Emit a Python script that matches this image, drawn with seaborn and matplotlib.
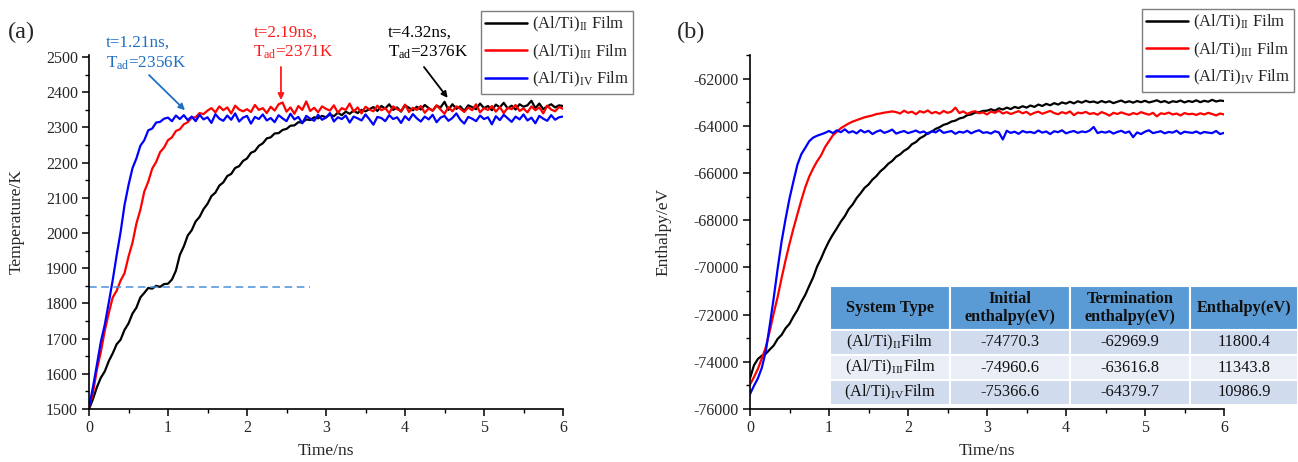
import numpy as np
import pandas as pd
import matplotlib
matplotlib.use("Agg")
import matplotlib.pyplot as plt
from matplotlib.ticker import MultipleLocator
import seaborn as sns

# ---------------------------------------------------------------- data
time_ns = np.round(np.linspace(0.0, 6.0, 121), 2)

films = [r"(Al/Ti)$_{\rm II}$ Film", r"(Al/Ti)$_{\rm III}$ Film", r"(Al/Ti)$_{\rm IV}$ Film"]
film_colors = ["#000000", "#ff0000", "#0000ff"]

# temperature (K) sampled every 0.05 ns
temp_II = [
    1500, 1528, 1562, 1589, 1607, 1636, 1658, 1684, 1697, 1725,
    1743, 1771, 1788, 1817, 1830, 1844, 1842, 1850, 1847, 1855,
    1856, 1868, 1893, 1938, 1962, 1993, 2008, 2033, 2046, 2068,
    2083, 2105, 2115, 2135, 2144, 2162, 2168, 2185, 2190, 2205,
    2212, 2228, 2233, 2248, 2255, 2269, 2272, 2283, 2284, 2293,
    2296, 2305, 2306, 2315, 2314, 2323, 2321, 2329, 2326, 2333,
    2329, 2337, 2332, 2342, 2335, 2345, 2339, 2348, 2341, 2350,
    2346, 2352, 2358, 2347, 2361, 2354, 2366, 2350, 2357, 2345,
    2363, 2356, 2349, 2359, 2351, 2364, 2355, 2348, 2362, 2357,
    2373, 2350, 2366, 2353, 2360, 2347, 2363, 2358, 2352, 2368,
    2355, 2361, 2349, 2365, 2357, 2370, 2354, 2362, 2351, 2366,
    2359, 2363, 2376, 2355, 2368, 2352, 2360, 2366, 2357, 2363,
    2361,
]
temp_III = [
    1505, 1545, 1612, 1662, 1723, 1772, 1817, 1836, 1865, 1886,
    1933, 1972, 2027, 2066, 2118, 2146, 2183, 2202, 2230, 2243,
    2264, 2272, 2290, 2295, 2309, 2315, 2328, 2329, 2341, 2338,
    2348, 2355, 2343, 2360, 2349, 2357, 2340, 2362, 2351, 2346,
    2352, 2344, 2364, 2350, 2355, 2341, 2359, 2348, 2366, 2371,
    2345, 2357, 2339, 2361, 2350, 2374, 2347, 2356, 2343, 2360,
    2353, 2348, 2363, 2342, 2355, 2350, 2368, 2345, 2357, 2340,
    2359, 2351, 2346, 2362, 2349, 2355, 2341, 2360, 2352, 2347,
    2365, 2344, 2356, 2350, 2361, 2342, 2354, 2348, 2363, 2351,
    2339, 2358, 2346, 2360, 2353, 2344, 2357, 2349, 2366, 2343,
    2355, 2350, 2361, 2345, 2358, 2341, 2356, 2352, 2364, 2347,
    2354, 2343, 2360, 2349, 2357, 2340, 2362, 2351, 2346, 2358,
    2353,
]
temp_IV = [
    1505, 1562, 1626, 1691, 1740, 1802, 1866, 1937, 2003, 2080,
    2136, 2184, 2212, 2248, 2264, 2292, 2297, 2314, 2316, 2325,
    2328, 2318, 2334, 2324, 2335, 2321, 2331, 2318, 2336, 2323,
    2329, 2313, 2338, 2325, 2319, 2334, 2322, 2340, 2317, 2328,
    2333, 2311, 2330, 2324, 2337, 2320, 2327, 2315, 2335, 2326,
    2318, 2339, 2323, 2330, 2312, 2333, 2325, 2319, 2336, 2322,
    2328, 2341, 2317, 2329, 2324, 2334, 2314, 2331, 2326, 2320,
    2337, 2323, 2308, 2330, 2327, 2318, 2335, 2324, 2329, 2313,
    2332, 2321, 2338, 2326, 2317, 2331, 2323, 2336, 2315, 2328,
    2333, 2319, 2327, 2340, 2322, 2311, 2330, 2325, 2318, 2334,
    2324, 2329, 2309, 2332, 2321, 2336, 2326, 2316, 2331, 2323,
    2337, 2320, 2328, 2312, 2333, 2325, 2319, 2335, 2322, 2329,
    2331,
]

# enthalpy (eV) sampled every 0.05 ns
enth_II = [
    -74700, -74150, -73880, -73740, -73660, -73480, -73310, -73030, -72860, -72580,
    -72390, -72080, -71810, -71460, -71160, -70780, -70420, -69960, -69620, -69230,
    -68890, -68600, -68340, -68060, -67830, -67530, -67330, -67060, -66860, -66630,
    -66490, -66280, -66130, -65930, -65790, -65610, -65490, -65310, -65210, -65060,
    -64960, -64780, -64690, -64530, -64440, -64310, -64250, -64130, -64060, -63960,
    -63910, -63820, -63780, -63690, -63650, -63550, -63520, -63440, -63430, -63370,
    -63360, -63300, -63360, -63260, -63310, -63230, -63290, -63200, -63250, -63170,
    -63230, -63140, -63200, -63100, -63160, -63070, -63130, -63040, -63100, -63010,
    -63060, -62980, -63050, -62960, -63020, -62940, -63000, -62970, -63030, -62950,
    -63010, -62960, -63040, -62980, -62930, -63010, -62960, -63020, -62950, -63000,
    -62940, -63010, -62970, -62920, -63000, -62950, -63030, -62960, -62990, -62930,
    -63010, -62950, -62990, -62920, -63000, -62940, -62980, -62900, -62970, -62930,
    -62950,
]
enth_III = [
    -74960, -74650, -74300, -73850, -73380, -72700, -71950, -71250, -70450, -69700,
    -69000, -68350, -67750, -67150, -66600, -66150, -65800, -65500, -65250, -64900,
    -64650, -64400, -64250, -64100, -64000, -63900, -63820, -63760, -63700, -63640,
    -63600, -63560, -63500, -63480, -63440, -63420, -63390, -63420, -63480, -63360,
    -63450, -63400, -63510, -63380, -63440, -63350, -63470, -63410, -63490, -63370,
    -63450, -63400, -63230, -63460, -63390, -63500, -63420, -63380, -63470, -63430,
    -63520, -63400, -63450, -63360, -63480, -63420, -63500, -63440, -63380, -63470,
    -63410, -63530, -63450, -63400, -63490, -63430, -63370, -63460, -63510, -63420,
    -63480, -63390, -63550, -63440, -63470, -63410, -63500, -63460, -63530, -63420,
    -63480, -63570, -63450, -63500, -63430, -63490, -63540, -63460, -63510, -63420,
    -63480, -63530, -63450, -63600, -63470, -63500, -63440, -63520, -63480, -63560,
    -63460, -63510, -63490, -63540, -63470, -63520, -63450, -63500, -63560, -63480,
    -63520,
]
enth_IV = [
    -75370, -75020, -74700, -74250, -73550, -72450, -71300, -70050, -68900, -67950,
    -67080, -66350, -65650, -65200, -64930, -64650, -64500, -64420, -64360, -64300,
    -64220, -64310, -64190, -64270, -64150, -64290, -64230, -64320, -64180, -64280,
    -64210, -64350, -64250, -64190, -64300, -64240, -64160, -64330, -64270, -64220,
    -64310, -64260, -64200, -64290, -64240, -64350, -64230, -64280, -64170, -64300,
    -64260, -64220, -64340, -64250, -64290, -64210, -64320, -64240, -64190, -64300,
    -64270, -64330, -64230, -64280, -64580, -64210, -64300, -64250, -64340, -64220,
    -64280, -64260, -64310, -64200, -64290, -64240, -64350, -64230, -64270, -64190,
    -64320, -64260, -64220, -64300, -64240, -64270, -64200, -64050, -64310, -64250,
    -64290, -64230, -64330, -64260, -64210, -64300, -64240, -64480, -64280, -64350,
    -64250, -64190, -64310, -64270, -64230, -64320, -64260, -64290, -64210, -64340,
    -64250, -64280, -64300, -64240, -64330, -64260, -64290, -64310, -64220, -64350,
    -64300,
]

# adiabatic temperature callouts
adiabatic_time = [1.21, 2.19, 4.32]
adiabatic_temp = [2356, 2371, 2376]

# enthalpy summary table
table_names = [r"(Al/Ti)$_{\rm II}$Film", r"(Al/Ti)$_{\rm III}$Film", r"(Al/Ti)$_{\rm IV}$Film"]
initial_enthalpy = [-74770.3, -74960.6, -75366.6]
termination_enthalpy = [-62969.9, -63616.8, -64379.7]
enthalpy_change = [11800.4, 11343.8, 10986.9]
table_header = ["System Type", "Initial\nenthalpy(eV)", "Termination\nenthalpy(eV)", "Enthalpy(eV)"]

ignition_temp = 1848

# ---------------------------------------------------------------- style
sns.set_style("ticks")
plt.rcParams["font.family"] = ["Liberation Serif", "DejaVu Serif"]
plt.rcParams["mathtext.fontset"] = "custom"
plt.rcParams["mathtext.rm"] = "Liberation Serif"
plt.rcParams["mathtext.it"] = "Liberation Serif:italic"
plt.rcParams["mathtext.bf"] = "Liberation Serif:bold"
plt.rcParams["axes.unicode_minus"] = False

temp_df = pd.DataFrame({
    "time": np.tile(time_ns, 3),
    "value": np.concatenate([temp_II, temp_III, temp_IV]),
    "film": np.repeat(films, len(time_ns)),
})
enth_df = pd.DataFrame({
    "time": np.tile(time_ns, 3),
    "value": np.concatenate([enth_II, enth_III, enth_IV]),
    "film": np.repeat(films, len(time_ns)),
})
palette = dict(zip(films, film_colors))

W, H = 1298, 462
fig = plt.figure(figsize=(W / 100, H / 100), dpi=100)
ax_w = 474 / W
ax_h = (409 - 55) / H
ax_b = 1 - 409 / H
ax1 = fig.add_axes([89 / W, ax_b, ax_w, ax_h])
ax2 = fig.add_axes([750 / W, ax_b, ax_w, ax_h])

for ax, df in ((ax1, temp_df), (ax2, enth_df)):
    sns.lineplot(data=df, x="time", y="value", hue="film", palette=palette,
                 estimator=None, sort=False, linewidth=1.6, ax=ax)
    sns.despine(ax=ax)
    ax.set_xlim(0, 6)
    ax.xaxis.set_major_locator(MultipleLocator(1))
    ax.xaxis.set_minor_locator(MultipleLocator(0.5))
    ax.tick_params(which="major", direction="out", length=5, width=1.1,
                   labelsize=11.5, color="black", pad=3)
    ax.tick_params(which="minor", direction="out", length=3, width=1.0, color="black")
    for s in ("left", "bottom"):
        ax.spines[s].set_linewidth(1.2)
        ax.spines[s].set_color("black")
    ax.set_xlabel("Time/ns", fontsize=12.5)
    ax.xaxis.set_label_coords(0.5, -0.097)
    handles, labels = ax.get_legend_handles_labels()
    ax.get_legend().remove()

# ------------------------------------------------ panel (a): temperature
ax1.set_ylim(1500, 2506)
ax1.yaxis.set_major_locator(MultipleLocator(100))
ax1.yaxis.set_minor_locator(MultipleLocator(50))
ax1.set_ylabel("Temperature/K", fontsize=12.5)
ax1.yaxis.set_label_coords(-0.135, 0.53)

ax1.plot([0, 2.8], [ignition_temp, ignition_temp], color="#4a8fd8",
         linestyle=(0, (5, 3)), linewidth=1.1)

callout_colors = ["#1f6fc4", "#ff1a1a", "#000000"]
text_pos = [(0.215, 2511), (2.08, 2540), (3.78, 2540)]
arrow_tail = [(0.76, 2449), (2.43, 2472), (4.24, 2472)]
arrow_head = [(1.215, 2349), (2.43, 2378), (4.54, 2384)]
for tt, tk, col, tp, at, ah in zip(adiabatic_time, adiabatic_temp, callout_colors,
                                   text_pos, arrow_tail, arrow_head):
    ax1.text(tp[0], tp[1], f"t={tt:.2f}ns,\nT$_{{\\rm ad}}$={tk}K", color=col,
             fontsize=12.3, ha="left", va="center", linespacing=1.25, clip_on=False)
    ax1.annotate("", xy=ah, xytext=at,
                 arrowprops=dict(arrowstyle="-|>", color=col, lw=1.3,
                                 mutation_scale=9, shrinkA=0, shrinkB=0),
                 annotation_clip=False)

leg_kw = dict(loc="upper right", bbox_transform=fig.transFigure, fontsize=12,
              frameon=True, fancybox=False, framealpha=1, edgecolor="#7f7f7f",
              handlelength=2.5, handletextpad=0.3, borderpad=0.25,
              labelspacing=0.5, borderaxespad=0)
leg1 = ax1.legend(handles, labels, bbox_to_anchor=(633 / W, 1 - 11 / H), **leg_kw)
leg1.get_frame().set_linewidth(1.0)
for ln in leg1.get_lines():
    ln.set_linewidth(1.8)

fig.text(8 / W, 1 - 32 / H, "(a)", fontsize=17.5, ha="left", va="center")

# ------------------------------------------------ panel (b): enthalpy
ax2.set_ylim(-76000, -61000)
ax2.yaxis.set_major_locator(MultipleLocator(2000))
ax2.yaxis.set_minor_locator(MultipleLocator(1000))
ax2.set_ylabel("Enthalpy/eV", fontsize=12.5)
ax2.yaxis.set_label_coords(-0.165, 0.5)

leg2 = ax2.legend(handles, labels, bbox_to_anchor=(1294 / W, 1 - 9 / H), **leg_kw)
leg2.get_frame().set_linewidth(1.0)
for ln in leg2.get_lines():
    ln.set_linewidth(1.8)

fig.text(677 / W, 1 - 32 / H, "(b)", fontsize=17.5, ha="left", va="center")

cell_text = [[n, f"{a:.1f}", f"{b:.1f}", f"{c:.1f}"]
             for n, a, b, c in zip(table_names, initial_enthalpy,
                                   termination_enthalpy, enthalpy_change)]
tbl_left = (830 - 750) / 474
tbl_right = (1298 - 750) / 474
tbl_bottom = (409 - 405) / 354
tbl_top = (409 - 286) / 354
tbl = ax2.table(cellText=cell_text, colLabels=table_header, cellLoc="center",
                bbox=[tbl_left, tbl_bottom, tbl_right - tbl_left, tbl_top - tbl_bottom])
tbl.auto_set_font_size(False)
tbl.set_zorder(5)
col_w = [120, 120, 120, 108]
row_fill = {1: "#d0dbee", 2: "#e9eef7", 3: "#d0dbee"}
for (r, c), cell in tbl.get_celld().items():
    cell.set_width(col_w[c])
    cell.set_height(44 if r == 0 else 25)
    cell.set_edgecolor("white")
    cell.set_linewidth(1.5)
    txt = cell.get_text()
    txt.set_fontsize(11.8)
    txt.set_linespacing(1.15)
    if r == 0:
        cell.set_facecolor("#5b9bd5")
        txt.set_fontweight("bold")
        txt.set_color("#111111")
    else:
        cell.set_facecolor(row_fill[r])
        txt.set_color("#111111")

fig.savefig("out.png", dpi=100)
